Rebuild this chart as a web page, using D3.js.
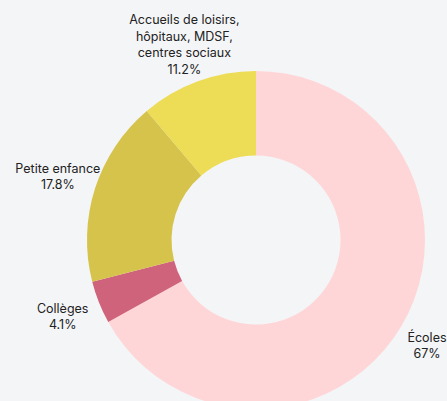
<!DOCTYPE html>
<html>
<head>
<meta charset="utf-8">
<script src="https://cdn.jsdelivr.net/npm/d3@7"></script>
<style>
  html, body { margin: 0; padding: 0; background: #f4f5f7; }
  svg { display: block; }
  text { font-family: Inter, "Noto Sans", sans-serif; font-size: 12.5px; fill: #222; }
</style>
</head>
<body>
<svg id="chart" width="447" height="401"></svg>
<script>
const categories = ['Écoles', 'Collèges', 'Petite enfance', 'Accueils de loisirs, hôpitaux, MDSF, centres sociaux'];
const labelLines = [['Écoles'], ['Collèges'], ['Petite enfance'], ['Accueils de loisirs,', 'hôpitaux, MDSF,', 'centres sociaux']];
const values = [67, 4.1, 17.8, 11.2];
const colors = ['#ffd6d8', '#d0637c', '#d5c34b', '#eddc55'];

const width = 447, height = 401;
const cx = 256, cy = 240;
const outerR = 169, innerR = 84.5, labelR = 208;

const svg = d3.select('svg#chart');
const g = svg.append('g').attr('transform', `translate(${cx},${cy})`);

const data = categories.map((c, i) => ({ name: c, value: values[i], lines: labelLines[i], color: colors[i] }));

const pie = d3.pie().value(d => d.value).sort(null);
const arc = d3.arc().innerRadius(innerR).outerRadius(outerR);
const labelArc = d3.arc().innerRadius(labelR).outerRadius(labelR);

const arcs = pie(data);

g.selectAll('path')
  .data(arcs)
  .enter().append('path')
  .attr('d', arc)
  .attr('fill', d => d.data.color);

const lineH = 16.5;
const label = g.selectAll('text.label')
  .data(arcs)
  .enter().append('text')
  .attr('class', 'label')
  .attr('text-anchor', 'middle')
  .attr('transform', d => {
    let [x, y] = labelArc.centroid(d);
    // keep labels inside the frame
    x = Math.min(x, width - cx - 20);
    return `translate(${x},${y})`;
  });

label.each(function (d) {
  const lines = d.data.lines.concat([d.data.value + '%']);
  const t = d3.select(this);
  const y0 = -(lines.length - 1) * lineH / 2;
  lines.forEach((l, i) => {
    t.append('tspan')
      .attr('x', 0)
      .attr('y', y0 + i * lineH)
      .attr('dy', '0.35em')
      .text(l);
  });
});
</script>
</body>
</html>
